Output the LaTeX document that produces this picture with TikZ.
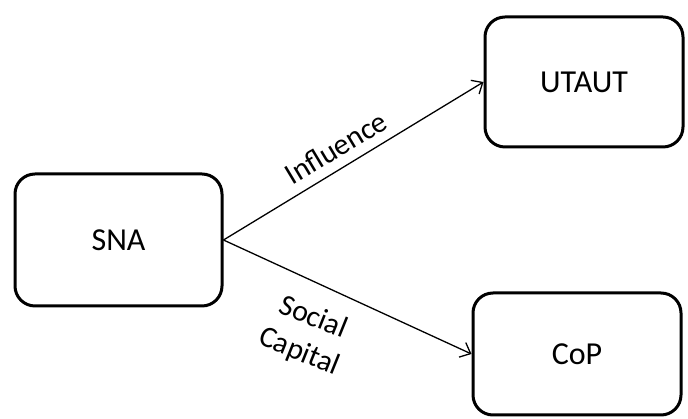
\documentclass[tikz,border=0pt]{standalone}
\usepackage{fontspec}
\setmainfont{Carlito}
\usetikzlibrary{arrows.meta}
\begin{document}
\begin{tikzpicture}[x=1pt,y=1pt,
  box/.style={draw=black, line width=3pt, rounded corners=20pt, fill=white,
    font=\fontsize{32}{38}\selectfont, inner sep=0pt},
  conn/.style={line width=1.3pt, -{Straight Barb[length=9pt,width=16pt,line width=1.3pt]}},
  lbl/.style={font=\fontsize{30}{37}\selectfont, align=center, inner sep=0pt}]
\useasboundingbox (0,0) rectangle (688,419);
\node[box, minimum width=207pt, minimum height=132pt] (sna) at (118.5,179) {SNA};
\node[box, minimum width=198pt, minimum height=130pt] (utaut) at (584,337) {UTAUT};
\node[box, minimum width=208pt, minimum height=122pt] (cop) at (577,65) {CoP};
\draw[conn] (sna.east) -- (utaut.west);
\draw[conn] (sna.east) -- (cop.west);
\node[lbl, rotate=31] (inf) at (336,271) {Influence};
\node[lbl, rotate=-22] (sc) at (306,84) {Social\\Capital};
\end{tikzpicture}
\end{document}
